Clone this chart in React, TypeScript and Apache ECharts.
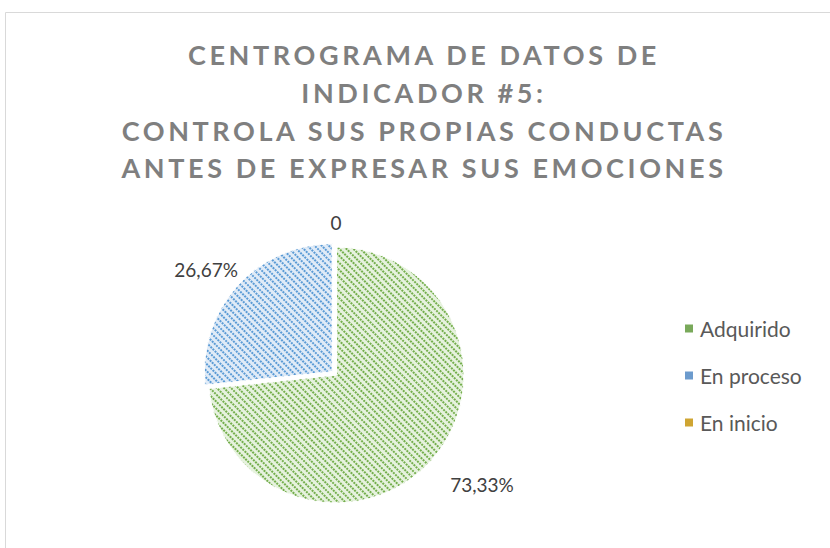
import React, { useEffect, useRef } from 'react';
import * as echarts from 'echarts';

const categories = ['Adquirido', 'En proceso', 'En inicio'];
const values = [73.33, 26.67, 0];
const titleLines = [
  'CENTROGRAMA DE DATOS DE',
  'INDICADOR #5:',
  'CONTROLA SUS PROPIAS CONDUCTAS',
  'ANTES DE EXPRESAR SUS EMOCIONES',
];

const baseColors = ['#e6f2de', '#e0ebf7', '#fbefc8'];
const stripeColors = ['#74ae4c', '#5b9bd5', '#c9a227'];
const legendColors = ['#79a95a', '#6c9bcd', '#cfa532'];
const labelLens = [55, 35, 25];
const labelShift = [
  [5, -13],
  [0, 7],
  [5, 0],
];

function formatValue(v: number): string {
  if (v === 0) return '0';
  return v.toFixed(2).replace('.', ',') + '%';
}

export default function App() {
  const ref = useRef<HTMLDivElement>(null);

  useEffect(() => {
    if (!ref.current) return;
    const chart = echarts.init(ref.current, null, { renderer: 'svg' });
    const font = 'Lato, "Open Sans", sans-serif';
    chart.setOption({
      animation: false,
      backgroundColor: '#ffffff',
      graphic: [
        {
          type: 'rect',
          silent: true,
          shape: { x: 5.5, y: 12.5, width: 900, height: 600 },
          style: { fill: 'none', stroke: '#d9d9d9', lineWidth: 1 },
        },
      ],
      title: {
        text: titleLines.join('\n'),
        left: 424,
        textAlign: 'center',
        top: 36,
        padding: 0,
        textStyle: {
          fontFamily: font,
          fontWeight: 'bold',
          fontSize: 27,
          lineHeight: 37.7,
          color: '#7f7f7f',
        },
      },
      legend: {
        orient: 'vertical',
        left: 678,
        top: 313,
        itemWidth: 10,
        itemHeight: 10,
        itemGap: 26,
        icon: 'rect',
        selectedMode: false,
        textStyle: { fontFamily: font, fontSize: 21, lineHeight: 21, color: '#595959', padding: [0, 0, 0, 1] },
        data: categories.map((name, i) => ({
          name,
          itemStyle: { color: legendColors[i], decal: 'none' },
        })),
      },
      series: [
        {
          type: 'pie',
          center: [336, 375],
          radius: 128,
          startAngle: 90,
          clockwise: true,
          selectedMode: 'single',
          selectedOffset: 5,
          avoidLabelOverlap: false,
          emphasis: { disabled: true },
          select: { itemStyle: { borderColor: '#ffffff', borderWidth: 1 } },
          label: {
            show: true,
            position: 'outside',
            fontFamily: font,
            fontSize: 19,
            color: '#404040',
            formatter: (p: any) => formatValue(p.value),
          },
          labelLine: { show: false, length2: 0 },
          labelLayout: (p: any) => ({
            align: 'center',
            verticalAlign: 'middle',
            dx: labelShift[p.dataIndex][0],
            dy: labelShift[p.dataIndex][1],
          }),
          data: categories.map((name, i) => ({
            name,
            value: values[i],
            selected: i === 1,
            labelLine: { show: false, length: labelLens[i], length2: 0 },
            itemStyle: {
              color: baseColors[i],
              borderColor: '#ffffff',
              borderWidth: 1,
              decal: {
                symbol: 'rect',
                symbolSize: 1,
                dashArrayX: [2, 1],
                dashArrayY: [1.6, 3],
                rotation: Math.PI / 4,
                color: stripeColors[i],
              },
            },
          })),
        },
      ],
    });
    return () => chart.dispose();
  }, []);

  return (
    <>
      <style>{`#chart text[style*="bold"], #chart text[font-weight="bold"] { letter-spacing: 3.6px; }`}</style>
      <div
        id="chart"
        ref={ref}
        style={{ position: 'fixed', left: 0, top: 0, width: 830, height: 548 }}
      />
    </>
  );
}
